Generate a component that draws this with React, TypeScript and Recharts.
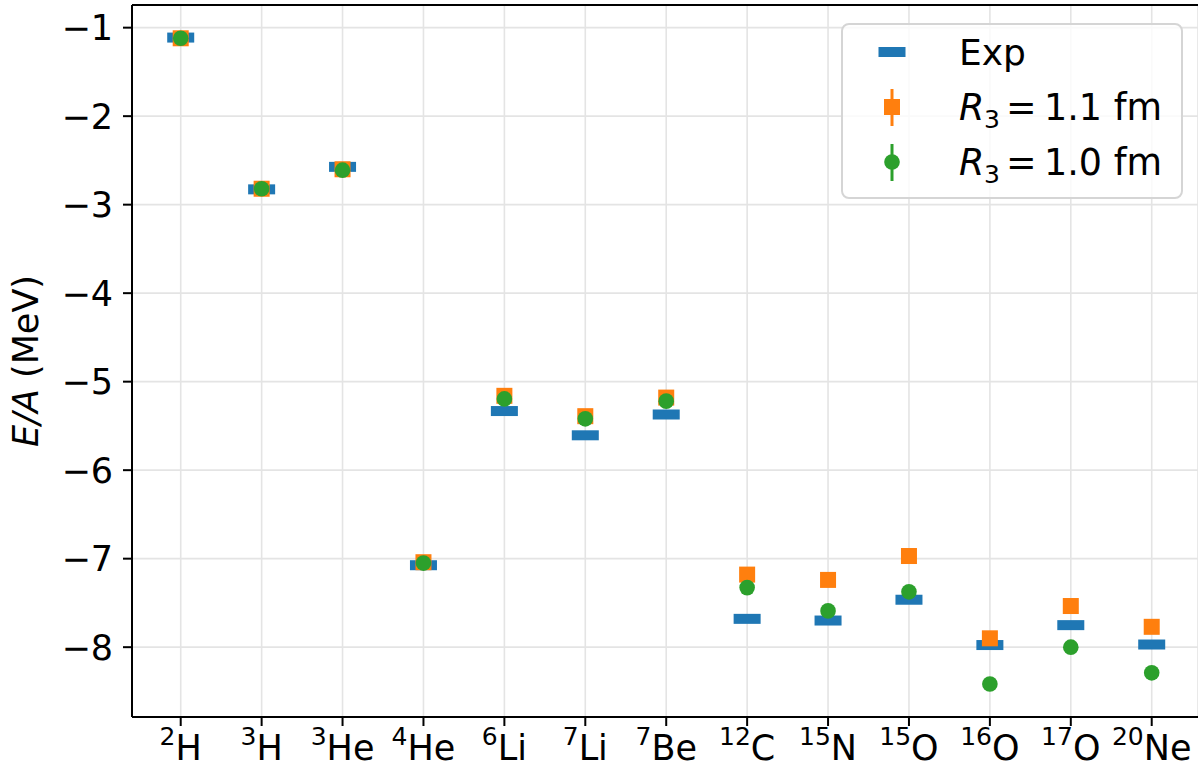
import React from 'react';
import {
    ScatterChart, Scatter, XAxis, YAxis, CartesianGrid, Legend, ReferenceLine
} from 'recharts';

// nuclei along the x axis
const massNumbers = ['2', '3', '3', '4', '6', '7', '7', '12', '15', '15', '16', '17', '20'];
const elements = ['H', 'H', 'He', 'He', 'Li', 'Li', 'Be', 'C', 'N', 'O', 'O', 'O', 'Ne'];

// binding energy per nucleon (MeV)
const expValues = [-1.112, -2.827, -2.573, -7.074, -5.332, -5.606, -5.371, -7.68, -7.699, -7.464, -7.976, -7.751, -7.97];
const r11Values = [-1.12, -2.82, -2.6, -7.04, -5.16, -5.39, -5.18, -7.18, -7.24, -6.97, -7.9, -7.535, -7.77];
const r10Values = [-1.12, -2.82, -2.61, -7.05, -5.195, -5.42, -5.22, -7.327, -7.59, -7.375, -8.416, -8.0, -8.29];

const yTicks = [-1, -2, -3, -4, -5, -6, -7, -8];
const xTicks = massNumbers.map((_, i) => i);

const Y_MIN = -8.789;
const Y_MAX = -0.744;

const BLUE = '#1f77b4';
const ORANGE = '#ff7f0e';
const GREEN = '#2ca02c';
const FONT = '"DejaVu Sans", sans-serif';
const FS = 35;

const toPoints = (vals: number[]) => vals.map((y, x) => ({ x, y }));

const expData = toPoints(expValues);
const r11Data = toPoints(r11Values);
const r10Data = toPoints(r10Values);

const ExpMarker = (p: any) => (
    <rect x={p.cx - 13.5} y={p.cy - 5} width={27} height={10} fill={BLUE} />
);
const SquareMarker = (p: any) => (
    <rect x={p.cx - 8} y={p.cy - 8} width={16} height={16} fill={ORANGE} />
);
const CircleMarker = (p: any) => (
    <circle cx={p.cx} cy={p.cy} r={7.8} fill={GREEN} />
);

const NucleusTick = ({ x, y, payload }: any) => {
    const i = payload.value;
    return (
        <text x={x} y={y + 32} textAnchor="middle" fontFamily={FONT} fontSize={FS} fill="#000">
            <tspan fontSize={25} dy={-15}>{massNumbers[i]}</tspan>
            <tspan dy={15}>{elements[i]}</tspan>
        </text>
    );
};

const YLabel = () => (
    <text
        x={38} y={361} textAnchor="middle" fontFamily={FONT} fontSize={FS} fill="#000"
        transform="rotate(-90, 38, 361)"
    >
        <tspan fontStyle="italic">E</tspan>
        <tspan fontStyle="italic">/</tspan>
        <tspan fontStyle="italic">A</tspan>
        <tspan> (MeV)</tspan>
    </text>
);

// "R_3 = x fm" legend label, laid out piece by piece
const RLabel = ({ y, value }: { y: number; value: string }) => (
    <text y={y} fontFamily={FONT} fontSize={36.5} fill="#000">
        <tspan x={118} fontStyle="italic">R</tspan>
        <tspan x={143} fontSize={25} dy={8}>3</tspan>
        <tspan x={165} dy={-8}>=</tspan>
        <tspan x={203}>{value} fm</tspan>
    </text>
);

const renderLegend = () => (
    <svg width={342} height={176} style={{ display: 'block' }}>
        <rect x={1} y={1} width={340} height={174} rx={7} fill="#fff" fillOpacity={0.8} stroke="#d5d5d5" strokeWidth={2} />
        <rect x={37.5} y={24} width={27} height={10} fill={BLUE} />
        <text x={118} y={42} fontFamily={FONT} fontSize={36} fill="#000">Exp</text>

        <line x1={51} x2={51} y1={66} y2={103} stroke={ORANGE} strokeWidth={3} />
        <rect x={43} y={76} width={16} height={16} fill={ORANGE} />
        <RLabel y={97} value="1.1" />

        <line x1={51} x2={51} y1={121} y2={158} stroke={GREEN} strokeWidth={3} />
        <circle cx={51} cy={139} r={7.8} fill={GREEN} />
        <RLabel y={152} value="1.0" />
    </svg>
);

export default function App() {
    return (
        <div style={{ position: 'absolute', left: 0, top: 0, background: '#fff' }}>
            <ScatterChart width={1198} height={767} margin={{ top: 5, right: 0, bottom: 0, left: 0 }}>
                <CartesianGrid stroke="#e4e4e4" strokeWidth={1.6} />
                <XAxis
                    type="number"
                    dataKey="x"
                    domain={[-0.602, 12.572]}
                    ticks={xTicks}
                    allowDataOverflow
                    height={50}
                    tick={<NucleusTick />}
                    tickSize={9}
                    axisLine={{ stroke: '#000', strokeWidth: 2 }}
                    tickLine={{ stroke: '#000', strokeWidth: 2 }}
                    interval={0}
                />
                <YAxis
                    type="number"
                    dataKey="y"
                    domain={[Y_MIN, Y_MAX]}
                    ticks={yTicks}
                    allowDataOverflow
                    width={132}
                    tickSize={9}
                    tickMargin={10}
                    tickFormatter={(v: number) => String(v).replace('-', '\u2212')}
                    tick={{ fill: '#000', fontSize: FS, fontFamily: FONT }}
                    axisLine={{ stroke: '#000', strokeWidth: 2 }}
                    tickLine={{ stroke: '#000', strokeWidth: 2 }}
                    label={<YLabel />}
                />
                <ReferenceLine y={Y_MAX} stroke="#000" strokeWidth={2} />
                <Scatter name="Exp" data={expData} shape={<ExpMarker />} isAnimationActive={false} />
                <Scatter name="R3 = 1.1 fm" data={r11Data} shape={<SquareMarker />} isAnimationActive={false} />
                <Scatter name="R3 = 1.0 fm" data={r10Data} shape={<CircleMarker />} isAnimationActive={false} />
                <Legend
                    layout="vertical"
                    align="center"
                    verticalAlign="middle"
                    content={renderLegend}
                    wrapperStyle={{ position: 'absolute', left: 841, top: 23, width: 342, height: 176 }}
                />
            </ScatterChart>
        </div>
    );
}
